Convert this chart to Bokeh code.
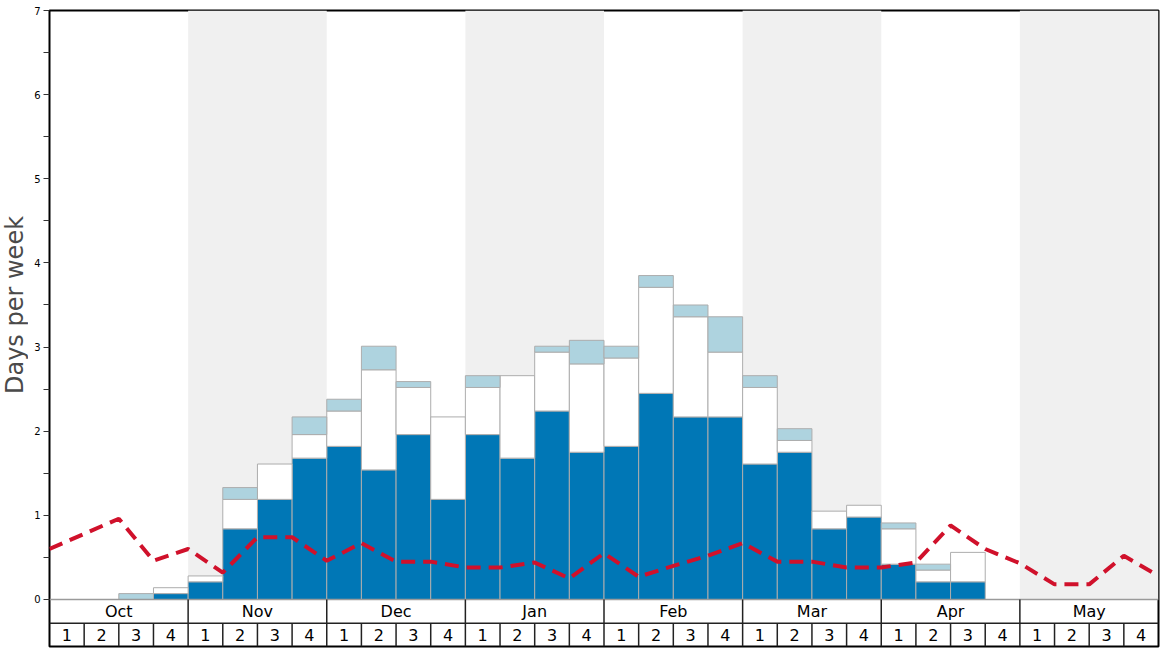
import numpy as np
from math import pi
from bokeh.plotting import figure
from bokeh.layouts import row
from bokeh.models import Range1d, FixedTicker
from bokeh.core.properties import value
from bokeh.embed import file_html
from bokeh.resources import INLINE

months = ["Oct", "Nov", "Dec", "Jan", "Feb", "Mar", "Apr", "May"]
week_labels = ["1", "2", "3", "4"]

# stacked segments per week (32 weeks)
dark = [0, 0, 0, 0.07,
        0.21, 0.84, 1.19, 1.68,
        1.82, 1.54, 1.96, 1.19,
        1.96, 1.68, 2.24, 1.75,
        1.82, 2.45, 2.17, 2.17,
        1.61, 1.75, 0.84, 0.98,
        0.42, 0.21, 0.21, 0,
        0, 0, 0, 0]
white = [0, 0, 0, 0.07,
         0.07, 0.35, 0.42, 0.28,
         0.42, 1.19, 0.56, 0.98,
         0.56, 0.98, 0.70, 1.05,
         1.05, 1.26, 1.19, 0.77,
         0.91, 0.14, 0.21, 0.14,
         0.42, 0.14, 0.35, 0,
         0, 0, 0, 0]
light = [0, 0, 0.07, 0,
         0, 0.14, 0, 0.21,
         0.14, 0.28, 0.07, 0,
         0.14, 0, 0.07, 0.28,
         0.14, 0.14, 0.14, 0.42,
         0.14, 0.14, 0, 0,
         0.07, 0.07, 0, 0,
         0, 0, 0, 0]
# dashed line values at week boundaries (33 points)
avg_line = [0.60, 0.78, 0.96, 0.46, 0.60, 0.32, 0.74, 0.74, 0.46, 0.67, 0.45,
            0.45, 0.38, 0.38, 0.44, 0.25, 0.55, 0.27, 0.40, 0.52, 0.67, 0.45,
            0.45, 0.38, 0.38, 0.44, 0.88, 0.60, 0.43, 0.18, 0.18, 0.52, 0.28]
y_title = "Days per week"

n_weeks = len(dark)
n_months = len(months)
Y_MIN = -0.5586
ROW_SPLIT = -0.281
yr = Range1d(Y_MIN, 7)

# narrow strip holding the rotated y-axis title
t = figure(width=28, height=648, output_backend="svg", toolbar_location=None,
           x_range=Range1d(0, 1), y_range=yr, x_axis_type=None, y_axis_type=None,
           min_border_left=0, min_border_right=0, min_border_top=10, min_border_bottom=2)
t.outline_line_color = None
t.grid.visible = False
t.text(x=[0.5], y=[3.5], text=[y_title], angle=pi / 2, text_align="center",
       text_baseline="alphabetic", text_font=value("DejaVu Sans"),
       text_font_size="24px", text_color="#4a4a4a")

p = figure(width=1132, height=648, output_backend="svg", toolbar_location=None,
           x_range=Range1d(0, n_weeks), y_range=yr,
           x_axis_type=None, min_border_left=21, min_border_right=2,
           min_border_top=10, min_border_bottom=2)
p.grid.visible = False
p.outline_line_color = "black"
p.outline_line_width = 2
p.background_fill_color = "white"

# alternating month bands
band_left = [m * 4 for m in range(1, n_months, 2)]
band_right = [b + 4 for b in band_left]
p.quad(left=band_left, right=band_right, bottom=0, top=7,
       fill_color="#f0f0f0", line_color=None)

# stacked bars
x = np.arange(n_weeks)
d = np.array(dark)
w = np.array(white)
l = np.array(light)
segments = [(np.zeros(n_weeks), d, "#0077b6"),
            (d, d + w, "white"),
            (d + w, d + w + l, "#aed3df")]
for bot, top, col in segments:
    m = top - bot > 0
    p.quad(left=x[m], right=x[m] + 1, bottom=bot[m], top=top[m],
           fill_color=col, line_color="#adadad", line_width=1)

# dashed line
p.line(x=np.arange(len(avg_line)), y=avg_line, line_color="#d0112b",
       line_width=4, line_dash="14 8")

# bottom label rows
p.segment(x0=[0], x1=[n_weeks], y0=[0], y1=[0], line_color="#9a9a9a", line_width=1.5)
p.segment(x0=[0], x1=[n_weeks], y0=[ROW_SPLIT], y1=[ROW_SPLIT], line_color="#222222", line_width=1.5)
mb = [m * 4 for m in range(1, n_months)]
p.segment(x0=mb, x1=mb, y0=[Y_MIN] * len(mb), y1=[0] * len(mb), line_color="#222222", line_width=1.5)
wb = [i for i in range(1, n_weeks) if i % 4 != 0]
p.segment(x0=wb, x1=wb, y0=[Y_MIN] * len(wb), y1=[ROW_SPLIT] * len(wb), line_color="#222222", line_width=1.5)

p.text(x=[m * 4 + 2 for m in range(n_months)], y=[ROW_SPLIT / 2] * n_months, text=months,
       text_align="center", text_baseline="middle", text_font=value("DejaVu Sans"),
       text_font_size="16px", text_color="black")
p.text(x=[i + 0.5 for i in range(n_weeks)], y=[(ROW_SPLIT + Y_MIN) / 2] * n_weeks,
       text=[week_labels[i % 4] for i in range(n_weeks)],
       text_align="center", text_baseline="middle", text_font=value("DejaVu Sans"),
       text_font_size="16px", text_color="black")

# y axis
ax = p.yaxis[0]
ax.ticker = FixedTicker(ticks=list(range(8)), minor_ticks=[k + 0.5 for k in range(7)])
ax.axis_line_color = None
ax.major_tick_out = 6
ax.major_tick_in = 0
ax.minor_tick_out = 6
ax.minor_tick_in = 0
ax.major_tick_line_color = "#333333"
ax.minor_tick_line_color = "#333333"
ax.major_label_text_font = "DejaVu Sans"
ax.major_label_text_font_size = "10px"
ax.major_label_text_color = "black"
ax.major_label_standoff = 3

layout = row(t, p)
open("out.html", "w").write(file_html(layout, INLINE))
